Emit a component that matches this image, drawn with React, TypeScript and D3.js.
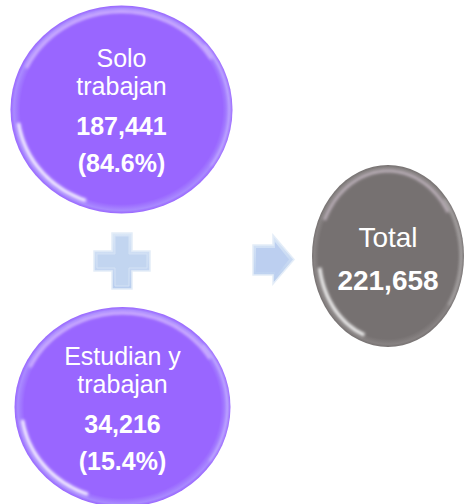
import React, { useEffect, useRef } from 'react';
import * as d3 from 'd3';

// data
const categoryLines = [['Solo', 'trabajan'], ['Estudian y', 'trabajan']];
const workerCounts = [187441, 34216];
const workerShares = [84.6, 15.4];
const totalLabel = 'Total';
const totalCount = 221658;

const W = 464, H = 504;

// bubble geometry (layout, not data)
const partBubbles = [
  { cx: 121.5, cy: 109.5, rx: 111, ry: 104 },
  { cx: 122.5, cy: 407, rx: 108, ry: 100 },
];
const totalBubble = { cx: 388, cy: 256, rx: 76, ry: 91 };

const fmt = d3.format(',');

export default function App() {
  const ref = useRef<SVGSVGElement>(null);

  useEffect(() => {
    const svg = d3.select(ref.current);
    svg.selectAll('*').remove();

    const defs = svg.append('defs');

    const addRimGradient = (id: string, base: string, rim: string) => {
      const g = defs.append('radialGradient').attr('id', id)
        .attr('cx', '50%').attr('cy', '50%').attr('r', '50%');
      g.append('stop').attr('offset', '0%').attr('stop-color', base);
      g.append('stop').attr('offset', '91%').attr('stop-color', base);
      g.append('stop').attr('offset', '97%').attr('stop-color', rim);
      g.append('stop').attr('offset', '100%').attr('stop-color', base);
    };
    addRimGradient('purpleFill', '#9966ff', '#a98aff');
    addRimGradient('grayFill', '#767171', '#878282');

    defs.append('filter').attr('id', 'soft')
      .attr('x', '-20%').attr('y', '-20%').attr('width', '140%').attr('height', '140%')
      .append('feGaussianBlur').attr('stdDeviation', 1.6);

    const blueGrad = defs.append('linearGradient').attr('id', 'blueFill')
      .attr('x1', 0).attr('y1', 0).attr('x2', 0).attr('y2', 1);
    blueGrad.append('stop').attr('offset', '0%').attr('stop-color', '#dae7f7');
    blueGrad.append('stop').attr('offset', '100%').attr('stop-color', '#b8cdee');

    const arcPath = (b: { cx: number; cy: number; rx: number; ry: number },
      inset: number, a0: number, a1: number) => {
      const ts = d3.range(a0, a1 + 0.5, 2).map(a => (a * Math.PI) / 180);
      return d3.line<number>()
        .x(t => b.cx + (b.rx - inset) * Math.cos(t))
        .y(t => b.cy + (b.ry - inset) * Math.sin(t))
        .curve(d3.curveCatmullRom)(ts);
    };

    const drawBubble = (b: typeof totalBubble, fill: string) => {
      const g = svg.append('g');
      g.append('ellipse')
        .attr('cx', b.cx).attr('cy', b.cy).attr('rx', b.rx).attr('ry', b.ry)
        .attr('fill', `url(#${fill})`);
      // top glossy rim
      g.append('path').attr('d', arcPath(b, 6, 205, 330))
        .attr('fill', 'none').attr('stroke', '#ffeeff')
        .attr('stroke-width', 3).attr('stroke-opacity', 0.5)
        .attr('filter', 'url(#soft)');
      // bottom-left reflection
      g.append('path').attr('d', arcPath(b, 7, 110, 172))
        .attr('fill', 'none').attr('stroke', '#ffffff')
        .attr('stroke-width', 3.5).attr('stroke-opacity', 0.9)
        .attr('filter', 'url(#soft)');
      // right rim
      g.append('path').attr('d', arcPath(b, 3, -40, 35))
        .attr('fill', 'none').attr('stroke', '#ffffff')
        .attr('stroke-width', 2).attr('stroke-opacity', 0.35)
        .attr('filter', 'url(#soft)');
      return g;
    };

    const font = '"Liberation Sans", Arial, sans-serif';

    partBubbles.forEach((b, i) => {
      const g = drawBubble(b, 'purpleFill');
      const t = g.append('g')
        .attr('font-family', font).attr('font-size', 25)
        .attr('fill', '#ffffff').attr('text-anchor', 'middle');
      categoryLines[i].forEach((line, j) => {
        t.append('text').attr('x', b.cx).attr('y', b.cy - 42.5 + j * 28).text(line);
      });
      t.append('text').attr('x', b.cx).attr('y', b.cy + 25.5)
        .attr('font-weight', 'bold').text(fmt(workerCounts[i]));
      t.append('text').attr('x', b.cx).attr('y', b.cy + 62.5)
        .attr('font-weight', 'bold').text(`(${workerShares[i].toFixed(1)}%)`);
    });

    const gt = drawBubble(totalBubble, 'grayFill');
    const tt = gt.append('g')
      .attr('font-family', font).attr('font-size', 28)
      .attr('fill', '#ffffff').attr('text-anchor', 'middle');
    tt.append('text').attr('x', totalBubble.cx).attr('y', totalBubble.cy - 9).text(totalLabel);
    tt.append('text').attr('x', totalBubble.cx).attr('y', totalBubble.cy + 34)
      .attr('font-weight', 'bold').text(fmt(totalCount));

    // plus sign
    const px = 122, py = 261, pl = 28, pw = 10;
    const plusPts: [number, number][] = [
      [px - pw, py - pl], [px + pw, py - pl], [px + pw, py - pw], [px + pl, py - pw],
      [px + pl, py + pw], [px + pw, py + pw], [px + pw, py + pl], [px - pw, py + pl],
      [px - pw, py + pw], [px - pl, py + pw], [px - pl, py - pw], [px - pw, py - pw],
    ];
    const poly = d3.line<[number, number]>().curve(d3.curveLinearClosed);
    svg.append('path').attr('d', poly(plusPts))
      .attr('fill', 'url(#blueFill)').attr('stroke', '#e4edf8').attr('stroke-width', 1.5);
    const inset = 3;
    const plusInner: [number, number][] = plusPts.map(([x, y]) => [
      x + (x < px ? inset : -inset), y + (y < py ? inset : -inset),
    ]);
    svg.append('path').attr('d', poly(plusInner))
      .attr('fill', '#c2d5f0').attr('stroke', '#d4e2f5').attr('stroke-width', 1);

    // arrow
    const ax0 = 253, ax1 = 273, ax2 = 294, ay = 259.5;
    const arrowPts: [number, number][] = [
      [ax0, 245], [ax1, 245], [ax1, 235], [ax2, ay], [ax1, 284], [ax1, 275], [ax0, 275],
    ];
    svg.append('path').attr('d', poly(arrowPts))
      .attr('fill', 'url(#blueFill)').attr('stroke', '#e4edf8').attr('stroke-width', 1.5);
    svg.append('path').attr('d', poly([[ax0 + 3, 248], [ax1 + 2, 248], [ax1 + 2, 242], [ax2 - 5, ay], [ax1 + 2, 277], [ax1 + 2, 272], [ax0 + 3, 272]]))
      .attr('fill', '#bccff0').attr('stroke', 'none');
  }, []);

  return (
    <svg ref={ref} width={W} height={H}
      style={{ position: 'absolute', left: 0, top: 0, background: '#ffffff' }} />
  );
}
